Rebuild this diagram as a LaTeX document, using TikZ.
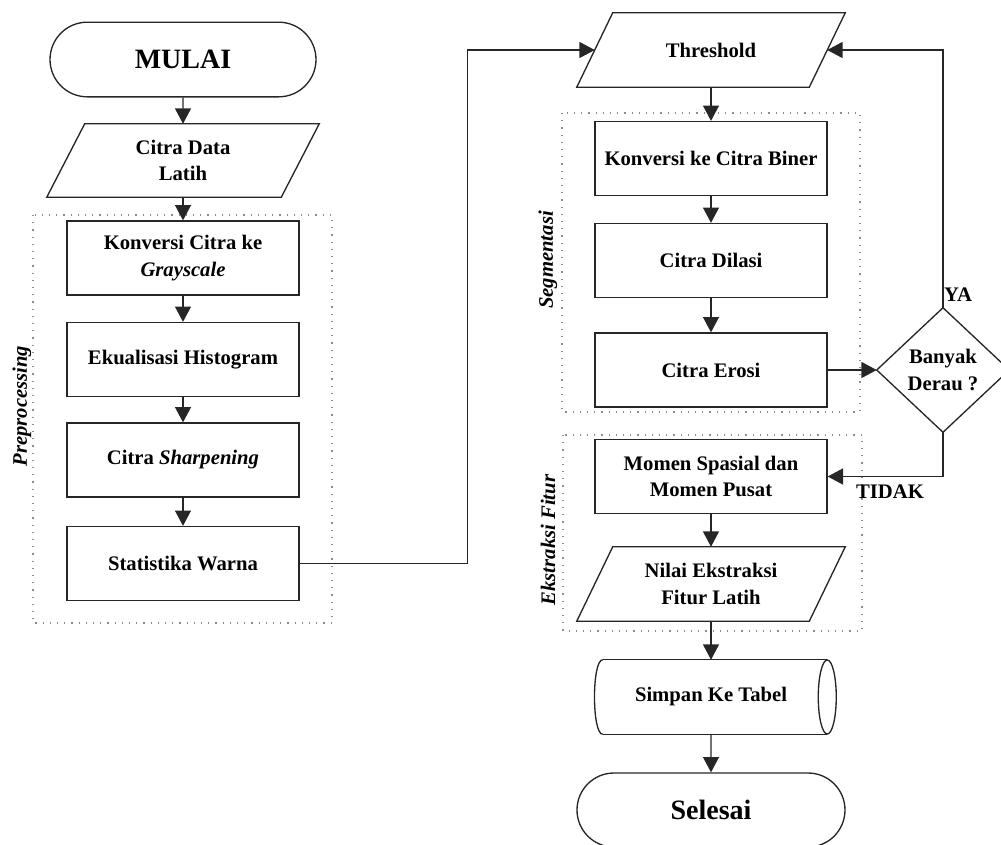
\documentclass[tikz,border=0pt]{standalone}
\usepackage{fontspec}
\setmainfont{Liberation Serif}
\usetikzlibrary{arrows.meta,shapes.misc,shapes.geometric,calc}
\begin{document}
\begin{tikzpicture}[x=0.75pt,y=-0.75pt,
  every node/.style={font=\bfseries\fontsize{15.5}{20}\selectfont, align=center, inner sep=0pt},
  line/.style={draw=black!85, line width=1pt},
  arr/.style={line, -{Triangle[length=11.5pt,width=12pt]}},
  proc/.style={line, rectangle, minimum width=174pt, minimum height=55.5pt},
  term/.style={line, rounded rectangle, minimum height=56pt, font=\bfseries\fontsize{21}{24}\selectfont},
  iobox/.style={minimum width=174pt, minimum height=55.5pt},
  group/.style={draw=black!45, line width=0.8pt, dash pattern=on 0.9pt off 4.5pt},
  glabel/.style={rotate=90, font=\bfseries\itshape\fontsize{15.5}{18}\selectfont},
  lbl/.style={font=\bfseries\fontsize{15.5}{18}\selectfont},
]
\useasboundingbox (0,0) rectangle (1001,844);

% group boxes
\draw[group] (33,215) rectangle (332,623);
\draw[group] (562,113) rectangle (860,412);
\draw[group] (563,435) rectangle (862,631);
\node[glabel] (lpre) at (22,406) {Preprocessing};
\node[glabel] (lseg) at (548,260) {Segmentasi};
\node[glabel] (lfit) at (548,540) {Ekstraksi Fitur};

% left column
\node[term, minimum width=199.5pt] (mulai) at (183,59.5) {MULAI};
\node[iobox, minimum width=175.5pt, minimum height=54.75pt] (data) at (183,160.5) {Citra Data\\Latih};
\draw[line] ($(data.north west)+(19,0)$) -- ($(data.north east)+(19,0)$) -- ($(data.south east)+(-19,0)$) -- ($(data.south west)+(-19,0)$) -- cycle;
\node[proc] (konv) at (183,258) {Konversi Citra ke\\\textit{Grayscale}};
\node[proc] (ekual) at (183,359.5) {Ekualisasi Histogram};
\node[proc] (sharp) at (183,460) {Citra \textit{Sharpening}};
\node[proc] (stat) at (183,563.5) {Statistika Warna};

% right column
\node[iobox] (thr) at (711,50) {Threshold};
\draw[line] ($(thr.north west)+(18,0)$) -- ($(thr.north east)+(18,0)$) -- ($(thr.south east)+(-18,0)$) -- ($(thr.south west)+(-18,0)$) -- cycle;
\node[proc] (biner) at (711,158.5) {Konversi ke Citra Biner};
\node[proc] (dilasi) at (711,260.5) {Citra Dilasi};
\node[proc] (erosi) at (711,370) {Citra Erosi};
\node[minimum width=99pt, minimum height=93pt] (dia) at (943,370) {Banyak\\Derau ?};
\draw[line] (dia.north) -- (dia.east) -- (dia.south) -- (dia.west) -- cycle;
\node[proc] (momen) at (711,476.5) {Momen Spasial dan\\Momen Pusat};
\node[iobox] (nilai) at (711,584) {Nilai Ekstraksi\\Fitur Latih};
\draw[line] ($(nilai.north west)+(18,0)$) -- ($(nilai.north east)+(18,0)$) -- ($(nilai.south east)+(-18,0)$) -- ($(nilai.south west)+(-18,0)$) -- cycle;
\node[iobox] (simpan) at (711,697) {Simpan Ke Tabel};
\draw[line] ($(simpan.north west)+(8,0)$) -- (simpan.north east);
\draw[line] ($(simpan.south west)+(8,0)$) -- (simpan.south east);
\draw[line] ($(simpan.north west)+(8,0)$) .. controls ($(simpan.north west)+(-3,0)$) and ($(simpan.south west)+(-3,0)$) .. ($(simpan.south west)+(8,0)$);
\draw[line] (simpan.east) ellipse [x radius=9, y radius=37];
\node[term, minimum width=201pt, minimum height=55.5pt] (selesai) at (711,810) {Selesai};

% connectors
\draw[arr] (mulai) -- (data);
\draw[arr] (data) -- (konv);
\draw[arr] (konv) -- (ekual);
\draw[arr] (ekual) -- (sharp);
\draw[arr] (sharp) -- (stat);
\draw[arr] (stat.east) -- ++(168,0) |- (thr.west);
\draw[arr] (thr) -- (biner);
\draw[arr] (biner) -- (dilasi);
\draw[arr] (dilasi) -- (erosi);
\draw[arr] (erosi.east) -- (dia.west);
\draw[arr] (dia.north) |- (thr.east);
\draw[arr] (dia.south) |- (momen.east);
\draw[arr] (momen) -- (nilai);
\draw[arr] (nilai) -- (simpan);
\draw[arr] (simpan) -- (selesai);

\node[lbl] (ya) at (958,295) {YA};
\node[lbl] (tidak) at (890,492) {TIDAK};
\end{tikzpicture}
\end{document}
